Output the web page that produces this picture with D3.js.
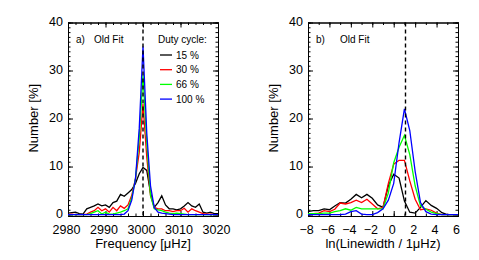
<!DOCTYPE html>
<html lang="en">
<head>
    <meta charset="UTF-8">
    <title>Duty cycle histograms</title>
    <script src="https://d3js.org/d3.v7.min.js"></script>
    <style>
        body { margin: 0; background: #fff; }
        text { font-family: "Liberation Sans", Arial, sans-serif; fill: #000; }
        .tick text { font-size: 12.5px; }
        .axis-title { font-size: 13px; }
        .note { font-size: 10px; }
        .domain, .tick line { stroke: #000; stroke-width: 1; }
    </style>
</head>
<body>
    <svg id="chart" width="479" height="260"></svg>
    <script>
        // panel a: frequency histogram (1 muHz bins)
        const freqBins = d3.range(2980, 3021, 1);
        const freq15 = [0.3, 0.4, 0.5, 0.2, 0.1, 1.2, 1.5, 1.8, 2.2, 1.8, 2.0, 1.5, 2.5, 2.8, 4.2, 3.8, 4.5, 5.2, 6.5, 8.5,
                        9.8, 9.2, 4.5, 1.5, 2.5, 3.9, 2.0, 1.2, 1.2, 1.0, 1.2, 1.8, 2.5, 1.8, 1.5, 2.2, 0.5, 0.3, 0.5, 0.2, 0.2];
        const freq30 = [0, 0.1, 0, 0, 0, 0.1, 0.5, 0.8, 1.5, 0.8, 1.2, 0.5, 1.5, 0.8, 1.8, 1.3, 2.0, 4.0, 7.5, 13,
                        23, 12, 4, 1.5, 1.2, 1.2, 0.8, 0.8, 0.6, 0.8, 0.8, 1.3, 0.5, 1.2, 0.8, 0.5, 0.2, 0.1, 0.1, 0, 0];
        const freq66 = [0, 0, 0, 0, 0, 0, 0.2, 0.5, 0.8, 0.1, 0.5, 0.1, 0.1, 0.3, 0.5, 0.8, 1.2, 3.5, 7.5, 16,
                        29, 15, 4, 1.2, 1.0, 0.8, 0.5, 0.3, 0.2, 0.3, 0.2, 0.1, 0, 0, 0, 0, 0, 0, 0, 0, 0];
        const freq100 = [0, 0, 0, 0, 0, 0, 0, 0, 0, 0, 0, 0, 0, 0, 0, 0.1, 0.8, 3.0, 7.5, 18,
                         35, 17, 6, 1.5, 0.5, 0.3, 0.2, 0.1, 0, 0, 0, 0, 0, 0, 0, 0, 0, 0, 0, 0, 0];

        // panel b: ln(linewidth) histogram (0.5 bins)
        const lwBins = d3.range(-8, 6.01, 0.5);
        const lw15 = [0.6, 0.8, 0.8, 1.2, 1.0, 1.8, 2.5, 2.4, 3.2, 4.2, 3.5, 4.2, 3.4, 2.0, 1.5,
                      6.0, 8.4, 7.6, 2.8, 0.5, 0.3, 1.5, 2.9, 1.9, 1.3, 0.4, 0, 0, 0];
        const lw30 = [0.2, 0.2, 0.3, 0.8, 0.6, 1.1, 2.4, 2.2, 2.5, 3.0, 2.5, 3.2, 2.2, 1.2, 1.5,
                      6.5, 10.5, 11.3, 11.3, 7.0, 3.2, 1.0, 1.2, 0.9, 0.3, 0, 0, 0, 0];
        const lw66 = [0.2, 0.2, 0.2, 0.3, 0.3, 0.6, 0.8, 1.2, 0.9, 1.5, 1.2, 1.2, 1.2, 1.2, 1.2,
                      4.5, 10.8, 14.0, 16.5, 12.5, 6.0, 1.8, 1.1, 0.5, 0.2, 0, 0, 0, 0];
        const lw100 = [0, 0, 0, 0, 0, 0, 0, 0.1, 0.6, 0.8, 0.1, 0, 0, 0.4, 1.2,
                       3.0, 6.5, 15.0, 22.0, 17.5, 9.0, 2.5, 0.6, 0.1, 0, 0, 0, 0, 0];

        const dutyLabels = ["15 %", "30 %", "66 %", "100 %"];
        const dutyColors = ["#000000", "#ff0000", "#00ff00", "#0000ff"];
        const yTicks = [0, 10, 20, 30, 40];
        const freqTicks = [2980, 2990, 3000, 3010, 3020];
        const lwTicks = [-8, -6, -4, -2, 0, 2, 4, 6];

        const svg = d3.select("#chart");
        const plotTop = 22.5, plotBottom = 216;

        function renderPanel(opts) {
            const x = d3.scaleLinear().domain(opts.xDomain).range([opts.left, opts.right]);
            const y = d3.scaleLinear().domain([-0.3, 40]).range([plotBottom, plotTop]);
            const g = svg.append("g");

            // minor ticks on all four sides
            const minorX = d3.range(opts.xDomain[0], opts.xDomain[1] + 0.001, opts.xMinor);
            const minorY = d3.range(0, 40.001, 1);
            g.append("g").attr("transform", `translate(0,${plotBottom})`)
                .call(d3.axisBottom(x).tickValues(minorX).tickSize(-2.5).tickFormat(""));
            g.append("g").attr("transform", `translate(0,${plotTop})`)
                .call(d3.axisTop(x).tickValues(minorX).tickSize(-2.5).tickFormat(""));
            g.append("g").attr("transform", `translate(${opts.left},0)`)
                .call(d3.axisLeft(y).tickValues(minorY).tickSize(-2.5).tickFormat(""));
            g.append("g").attr("transform", `translate(${opts.right},0)`)
                .call(d3.axisRight(y).tickValues(minorY).tickSize(-2.5).tickFormat(""));

            // major ticks + labels
            g.append("g").attr("transform", `translate(0,${plotBottom})`)
                .call(d3.axisBottom(x).tickValues(opts.xTicks).tickFormat(d3.format("d"))
                    .tickSize(-5).tickSizeOuter(0).tickPadding(9))
                .selectAll(".tick text").attr("dx", -2);
            g.append("g").attr("transform", `translate(0,${plotTop})`)
                .call(d3.axisTop(x).tickValues(opts.xTicks).tickSize(-5).tickSizeOuter(0).tickFormat(""));
            g.append("g").attr("transform", `translate(${opts.left},0)`)
                .call(d3.axisLeft(y).tickValues(yTicks).tickSize(-5).tickSizeOuter(0).tickPadding(5))
                .selectAll(".tick text").attr("dy", "0.2em");
            g.append("g").attr("transform", `translate(${opts.right},0)`)
                .call(d3.axisRight(y).tickValues(yTicks).tickSize(-5).tickSizeOuter(0).tickFormat(""));
            g.selectAll(".domain").attr("fill", "none");

            // curves
            const line = d3.line().x((d, i) => x(opts.bins[i])).y(d => y(d));
            opts.series.forEach((s, i) => {
                g.append("path")
                    .datum(s)
                    .attr("fill", "none")
                    .attr("stroke", dutyColors[i])
                    .attr("stroke-width", 1.3)
                    .attr("d", line);
            });

            // reference line
            g.append("line")
                .attr("x1", x(opts.refX)).attr("x2", x(opts.refX))
                .attr("y1", plotTop).attr("y2", plotBottom)
                .attr("stroke", "#000").attr("stroke-width", 1.4)
                .attr("stroke-dasharray", "4,3");

            // titles
            g.append("text").attr("class", "axis-title")
                .attr("x", (opts.left + opts.right) / 2).attr("y", 248)
                .attr("text-anchor", "middle").text(opts.xTitle);
            g.append("text").attr("class", "axis-title")
                .attr("transform", `translate(${opts.left - 30},${(plotTop + plotBottom) / 2 - 1}) rotate(-90)`)
                .attr("text-anchor", "middle").text("Number [%]");

            g.append("text").attr("class", "note").attr("x", opts.left + 8).attr("y", 42.5).text(opts.tag);
            g.append("text").attr("class", "note").attr("x", opts.left + opts.fitX).attr("y", 42.5).text("Old Fit");
            return { x, y, g };
        }

        const a = renderPanel({
            left: 68, right: 218, xDomain: [2980, 3020], xMinor: 2, xTicks: freqTicks,
            bins: freqBins, series: [freq15, freq30, freq66, freq100], refX: 3000,
            xTitle: "Frequency [μHz]", tag: "a)", fitX: 26
        });
        renderPanel({
            left: 308, right: 458, xDomain: [-8, 6], xMinor: 1, xTicks: lwTicks,
            bins: lwBins, series: [lw15, lw30, lw66, lw100], refX: 1.1,
            xTitle: "ln(Linewidth / 1μHz)", tag: "b)", fitX: 32
        });

        // legend in panel a
        a.g.append("text").attr("class", "note").attr("x", 158).attr("y", 42.5).text("Duty cycle:");
        const leg = a.g.selectAll(".leg").data(dutyLabels).enter().append("g")
            .attr("transform", (d, i) => `translate(160,${55 + i * 14.7})`);
        leg.append("line").attr("x1", 0).attr("x2", 12)
            .attr("stroke", (d, i) => dutyColors[i]).attr("stroke-width", 1.3);
        leg.append("text").attr("class", "note").attr("x", 16).attr("dy", "0.35em").text(d => d);
    </script>
</body>
</html>
